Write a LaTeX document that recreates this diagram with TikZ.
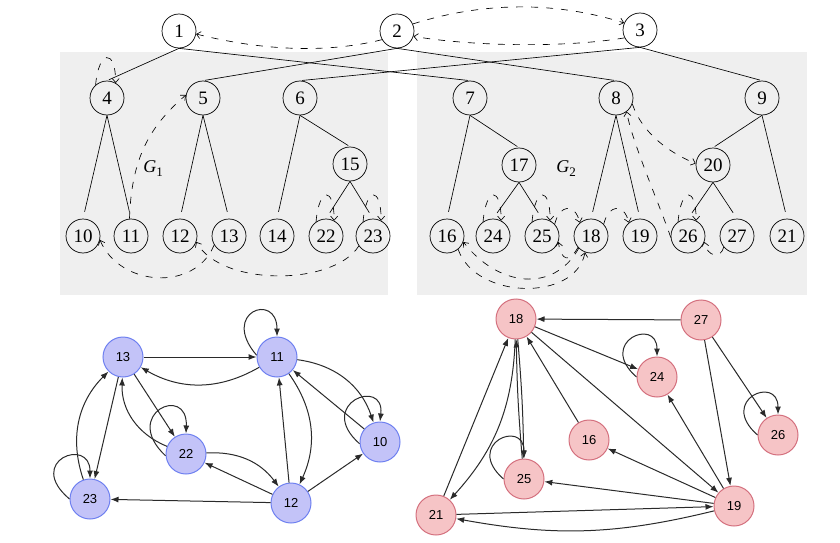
\documentclass[tikz,border=0pt]{standalone}
\usepackage{fontspec}
\setmainfont{Liberation Serif}
\newfontfamily\lsans{Liberation Sans}
\usetikzlibrary{arrows.meta}
\definecolor{boxgray}{HTML}{EFEFEF}
\definecolor{bfill}{HTML}{C3C3F8}
\definecolor{bdraw}{HTML}{6E80F0}
\definecolor{pfill}{HTML}{F6C4C6}
\definecolor{pdraw}{HTML}{D4707E}
\definecolor{gline}{HTML}{2A2A2A}
\begin{document}
\begin{tikzpicture}[x=1pt,y=1pt,
 tnode/.style={circle,draw,line width=0.7pt,minimum size=34pt,inner sep=0pt,font=\fontsize{19}{19}\selectfont},
 tedge/.style={line width=0.65pt},
 dsh/.style={line width=0.65pt,dash pattern=on 7pt off 8pt,-{Straight Barb[length=4pt,width=7pt]}},
 bnode/.style={circle,draw=bdraw,fill=bfill,line width=1pt,minimum size=40pt,inner sep=0pt,font=\lsans\fontsize{13}{13}\selectfont},
 pnode/.style={bnode,draw=pdraw,fill=pfill},
 garr/.style={line width=1pt,draw=gline,-{Latex[length=8pt,width=6pt]}},
 glabel/.style={font=\fontsize{18}{18}\selectfont}]
\useasboundingbox (0,0) rectangle (840,542);
\fill[boxgray] (60,247) rectangle (388,490);
\fill[boxgray] (417,247) rectangle (807,490);
% top tree nodes
\node[tnode] (t1) at (179,511) {1};
\node[tnode] (t2) at (397,511) {2};
\node[tnode] (t3) at (640,512) {3};
\node[tnode] (t4) at (107,444) {4};
\node[tnode] (t5) at (203,444) {5};
\node[tnode] (t6) at (300,444) {6};
\node[tnode] (t7) at (470,444) {7};
\node[tnode] (t8) at (616,444) {8};
\node[tnode] (t9) at (762,444) {9};
\node[tnode] (t15) at (350,378) {15};
\node[tnode] (t17) at (519,377) {17};
\node[tnode] (t20) at (713,377) {20};
\node[tnode] (t10) at (83,306) {10};
\node[tnode] (t11) at (131,306) {11};
\node[tnode] (t12) at (180,306) {12};
\node[tnode] (t13) at (229,306) {13};
\node[tnode] (t14) at (277,306) {14};
\node[tnode] (t22) at (326,306) {22};
\node[tnode] (t23) at (373,306) {23};
\node[tnode] (t16) at (447,306) {16};
\node[tnode] (t24) at (493,306) {24};
\node[tnode] (t25) at (542,306) {25};
\node[tnode] (t18) at (591,306) {18};
\node[tnode] (t19) at (640,306) {19};
\node[tnode] (t26) at (688,306) {26};
\node[tnode] (t27) at (737,306) {27};
\node[tnode] (t21) at (787,306) {21};
\node[glabel] (g1) at (153,373) {\textit{G}\raisebox{-4pt}{\fontsize{13}{13}\selectfont 1}};
\node[glabel] (g2) at (566,373) {\textit{G}\raisebox{-4pt}{\fontsize{13}{13}\selectfont 2}};
% tree edges
\foreach \p/\c in {1/4,1/7,2/5,2/8,3/6,3/9,6/15,7/17,9/20}
  \draw[tedge,shorten >=2pt] (t\p.south) -- (t\c.north);
\foreach \p/\c in {4/10,4/11,5/12,5/13,6/14,15/22,15/23,7/16,17/24,17/25,8/18,8/19,9/21,20/26,20/27}
  \draw[tedge,shorten >=7pt] (t\p.south) -- (t\c.north);
% dashed edges
\draw[dsh] (t2.210) .. controls +(-60,-15) and +(60,-15) .. (t1.-10);
\draw[dsh] (t2.24) .. controls +(70,22) and +(-70,22) .. (t3.156);
\draw[dsh] (t3.207) .. controls +(-60,-10) and +(60,-10) .. (t2.-18);
\draw[dsh] (t4.131) .. controls +(3,35) and +(0,35) .. (t4.60);
\foreach \n in {22,23,24,25,26}
  \draw[dsh] (t\n.125) .. controls +(3,35) and +(0,35) .. (t\n.62);
\draw[dsh] (t11.95) .. controls +(2,60) and +(-37,-32) .. (t5.170);
\draw[dsh] (t13.211) .. controls +(-19,-47) and +(20,-47) .. (t10.-13);
\draw[dsh] (t23.215) .. controls +(-25,-40) and +(25,-45) .. (t12.-20);
\draw[dsh] (t25.43) .. controls +(5,20) and +(-5,20) .. (t18.130);
\draw[dsh] (t18.43) .. controls +(5,20) and +(-5,20) .. (t19.130);
\draw[dsh] (t18.221) .. controls +(-8,-15) and +(3,-20) .. (t25.-20);
\draw[dsh] (t18.225) .. controls +(-25,-45) and +(35,-45) .. (t16.-20);
\draw[dsh] (t16.-50) .. controls +(17,-50) and +(-10,-50) .. (t18.250);
\draw[dsh] (t8.-20) .. controls +(10,-30) and +(-25,10) .. (t20.175);
\draw[dsh] (t26.185) .. controls +(-8,25) and +(5,-30) .. (t8.-52);
\draw[dsh] (t27.220) .. controls +(-3,-12) and +(3,-15) .. (t26.-20);
% lower-left graph
\node[bnode] (a13) at (123,185) {13};
\node[bnode] (a11) at (277,185) {11};
\node[bnode] (a22) at (186,88) {22};
\node[bnode] (a10) at (380,100) {10};
\node[bnode] (a23) at (90,43) {23};
\node[bnode] (a12) at (291,39) {12};
\draw[garr] (a13) -- (a11);
\draw[garr] (a11) to[bend left=30] (a13);
\draw[garr] (a11.175) .. controls +(-37,43) and +(0,45) .. (a11.north);
\draw[garr] (a11) to[bend left=32] (a10);
\draw[garr] (a10) -- (a11);
\draw[garr] (a10.185) .. controls +(-45,40) and +(5,45) .. (a10.north);
\draw[garr] (a11) to[bend left=30] (a12);
\draw[garr] (a12) -- (a11);
\draw[garr] (a12) -- (a10);
\draw[garr] (a12) -- (a22);
\draw[garr] (a22) to[bend left=28] (a12);
\draw[garr] (a12) -- (a23);
\draw[garr] (a13) -- (a22);
\draw[garr] (a22) to[bend left=35] (a13);
\draw[garr] (a22.185) .. controls +(-45,42) and +(2,50) .. (a22.north);
\draw[garr] (a13) -- (a23);
\draw[garr] (a23) to[bend left=32] (a13);
\draw[garr] (a23.180) .. controls +(-45,38) and +(0,42) .. (a23.north);
% lower-right graph
\node[pnode] (b18) at (516,223) {18};
\node[pnode] (b27) at (701,222) {27};
\node[pnode] (b24) at (657,165) {24};
\node[pnode] (b26) at (778,107) {26};
\node[pnode] (b16) at (589,102) {16};
\node[pnode] (b25) at (524,63) {25};
\node[pnode] (b21) at (436,27) {21};
\node[pnode] (b19) at (734,36) {19};
\draw[garr] (b27) -- (b18);
\draw[garr] (b18) -- (b24);
\draw[garr] (b24.180) .. controls +(-40,35) and +(0,40) .. (b24.north);
\draw[garr] (b27) -- (b19);
\draw[garr] (b27) -- (b26);
\draw[garr] (b26.180) .. controls +(-40,35) and +(0,40) .. (b26.north);
\draw[garr] (b18) -- (b19);
\draw[garr] (b19) -- (b24);
\draw[garr] (b16) -- (b18);
\draw[garr] (b19) -- (b16);
\draw[garr] (b19) -- (b25);
\draw[garr] (b18) to[bend left=2] (b25);
\draw[garr] (b25) to[bend left=2] (b18);
\draw[garr] (b25.180) .. controls +(-40,35) and +(0,40) .. (b25.north);
\draw[garr] (b18) to[bend left=20] (b21);
\draw[garr] (b21) -- (b18);
\draw[garr] (b21) -- (b19);
\draw[garr] (b19) to[bend left=12] (b21);
\end{tikzpicture}
\end{document}
